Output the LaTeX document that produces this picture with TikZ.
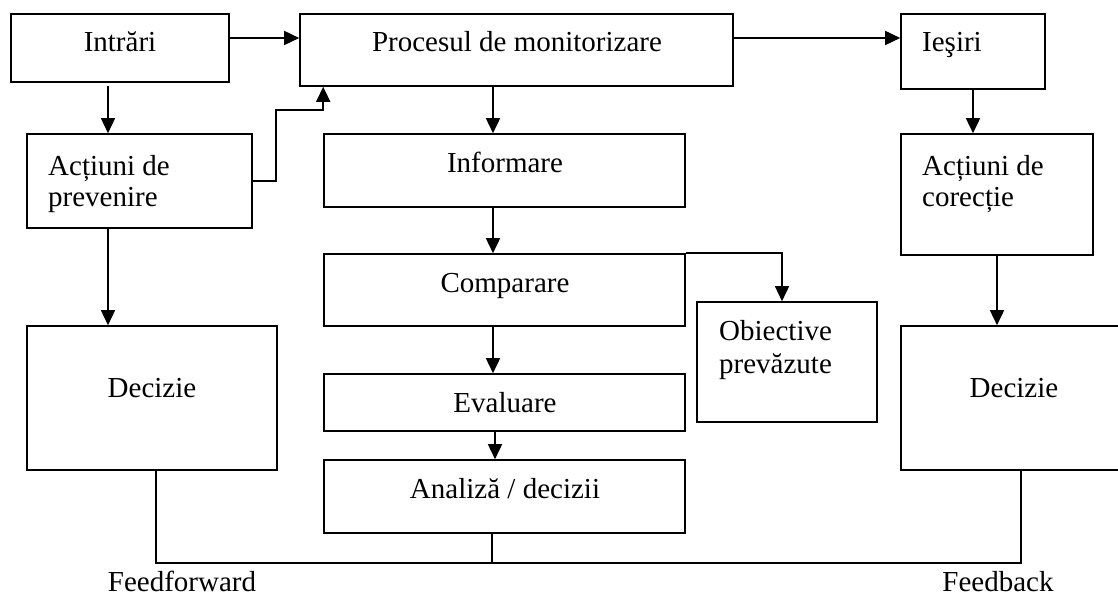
\documentclass[tikz,border=0pt]{standalone}
\usepackage{fontspec}
\setmainfont{Liberation Serif}
\usetikzlibrary{arrows.meta,fit}
\begin{document}
\begin{tikzpicture}[x=1pt,y=-1pt,
  box/.style={draw,line width=1.6pt,inner sep=0pt,rectangle},
  txt/.style={inner sep=0pt,font=\fontsize{29}{33}\selectfont},
  arr/.style={line width=1.6pt,-{Triangle[length=15pt,width=14pt]}},
  ln/.style={line width=1.4pt}]
\fill[white] (0,0) rectangle (1118,599);
\useasboundingbox (0,0) rectangle (1118,599);
% boxes
\node[box,fit={(11,14) (229,82)}] (intr) {};
\node[box,fit={(300,14) (733,86)}] (proc) {};
\node[box,fit={(901,14) (1045,89)}] (ies) {};
\node[box,fit={(27,134) (252,228)}] (prev) {};
\node[box,fit={(324,134) (685,207)}] (inf) {};
\node[box,fit={(901,134) (1093,255)}] (cor) {};
\node[box,fit={(324,254) (685,326)}] (comp) {};
\node[box,fit={(697,302) (877,422)}] (obj) {};
\node[box,fit={(324,374) (685,431)}] (eval) {};
\node[box,fit={(324,460) (685,533)}] (anal) {};
\node[box,fit={(27,326) (277,470)}] (decL) {};
\node[box,fit={(901,326) (1127,470)}] (decR) {};
% texts
\node[txt,anchor=base] (tIntr) at (120,52) {Intrări};
\node[txt,anchor=base] (tProc) at (517,52) {Procesul de monitorizare};
\node[txt,anchor=base west] (tIes) at (922,52) {Ieşiri};
\node[txt,anchor=base west] (tPrev1) at (48,175) {Acțiuni de};
\node[txt,anchor=base west] (tPrev2) at (48,206) {prevenire};
\node[txt,anchor=base] (tInf) at (505,172) {Informare};
\node[txt,anchor=base west] (tCor1) at (922,175) {Acțiuni de};
\node[txt,anchor=base west] (tCor2) at (922,206) {corecție};
\node[txt,anchor=base] (tComp) at (505,292) {Comparare};
\node[txt,anchor=base west] (tObj1) at (719,340) {Obiective};
\node[txt,anchor=base west] (tObj2) at (719,373) {prevăzute};
\node[txt,anchor=base] (tEval) at (505,412) {Evaluare};
\node[txt,anchor=base] (tAnal) at (505,498) {Analiză / decizii};
\node[txt,anchor=base] (tDecL) at (152,397) {Decizie};
\node[txt,anchor=base] (tDecR) at (1014,397) {Decizie};
\node[txt,anchor=base,text depth=0pt] (tFF) at (182,591) {Feedforward};
\node[txt,anchor=base,text depth=0pt] (tFB) at (998,591) {Feedback};
% helper coordinates
\coordinate (colL) at (108,0);
\coordinate (colM) at (493,0);
\coordinate (colM2) at (495,0);
\coordinate (k1) at (276,110);
\coordinate (bl) at (156,563);
\coordinate (bm) at (492,563);
\coordinate (br) at (1021,563);
\coordinate (ob) at (782,0);
% connectors
\draw[arr] ([yshift=10pt]intr.east) -- ([yshift=10pt]intr.east -| proc.west);
\draw[arr] ([yshift=12pt]proc.east) -- ([yshift=12pt]proc.east -| ies.west);
\draw[arr,shorten <=3pt] (intr.south -| colL) -- (prev.north -| colL);
\draw[arr] (prev.south -| colL) -- (decL.north -| colL);
\draw[arr] (prev.east) -| (k1) -| ([xshift=24pt]proc.south west);
\draw[arr] (proc.south -| colM) -- (inf.north -| colM);
\draw[arr] (inf.south -| colM) -- (comp.north -| colM);
\draw[arr] (comp.south -| colM) -- (eval.north -| colM);
\draw[arr] (eval.south -| colM2) -- (anal.north -| colM2);
\draw[arr] (comp.north east) -| (obj.north -| ob);
\draw[arr] (ies.south) -- (ies.south |- cor.north);
\draw[arr] (cor.south) -- (cor.south |- decR.north);
\draw[ln] (decL.south -| bl) -- (bl) -- (br) -- (decR.south -| br);
\draw[ln] (anal.south -| bm) -- (bm);
\end{tikzpicture}
\end{document}
